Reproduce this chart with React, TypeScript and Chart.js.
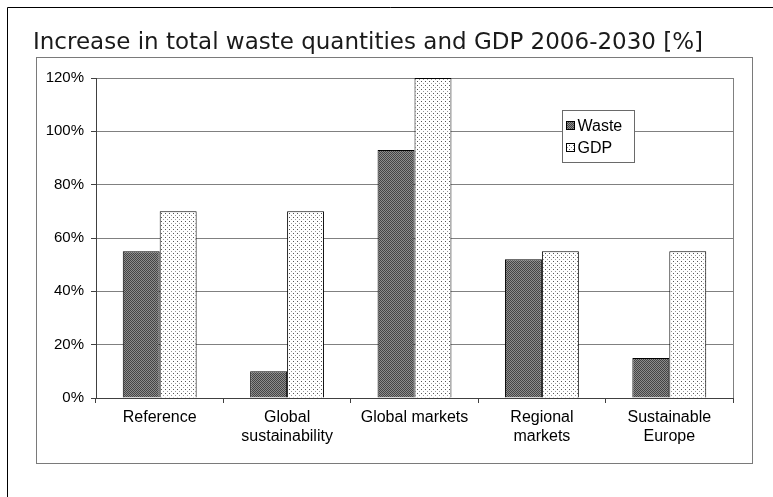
import React, { useEffect, useRef } from 'react';
import { Chart, registerables } from 'chart.js';

Chart.register(...registerables);

const TITLE = 'Increase in total waste quantities and GDP 2006-2030 [%]';
const CATEGORIES: string[][] = [
  ['Reference'],
  ['Global', 'sustainability'],
  ['Global markets'],
  ['Regional', 'markets'],
  ['Sustainable', 'Europe'],
];
const SERIES_LABELS = ['Waste', 'GDP'];
const WASTE = [55, 10, 93, 52, 15];
const GDP = [70, 70, 120, 55, 55];
const Y_MIN = 0;
const Y_MAX = 120;
const Y_STEP = 20;

const FONT_FAMILY = "'Liberation Sans', Arial, sans-serif";

function makeWastePattern(): CanvasPattern | string {
  const c = document.createElement('canvas');
  c.width = 4;
  c.height = 4;
  const g = c.getContext('2d');
  if (!g) return '#6a6a6a';
  g.fillStyle = '#8c8c8c';
  g.fillRect(0, 0, 4, 4);
  g.fillStyle = '#444444';
  for (let y = 0; y < 4; y++) {
    for (let x = 0; x < 4; x++) {
      if ((x + y) % 2 === 0) g.fillRect(x, y, 1, 1);
    }
  }
  return g.createPattern(c, 'repeat') || '#6a6a6a';
}

function makeGdpPattern(): CanvasPattern | string {
  const c = document.createElement('canvas');
  c.width = 4;
  c.height = 4;
  const g = c.getContext('2d');
  if (!g) return '#f4f4f4';
  g.fillStyle = '#ffffff';
  g.fillRect(0, 0, 4, 4);
  g.fillStyle = '#555555';
  g.fillRect(1, 1, 1, 1);
  g.fillStyle = '#999999';
  g.fillRect(3, 3, 1, 1);
  return g.createPattern(c, 'repeat') || '#f4f4f4';
}

const decorPlugin = {
  id: 'decor',
  beforeDraw(chart: any) {
    const ctx: CanvasRenderingContext2D = chart.ctx;
    ctx.save();
    ctx.fillStyle = '#ffffff';
    ctx.fillRect(0, 0, chart.width, chart.height);
    // outer frame
    ctx.strokeStyle = '#000000';
    ctx.lineWidth = 1;
    ctx.beginPath();
    ctx.moveTo(7.5, chart.height + 2);
    ctx.lineTo(7.5, 7.5);
    ctx.lineTo(chart.width + 2, 7.5);
    ctx.stroke();
    // inner frame
    ctx.strokeStyle = '#7a7a7a';
    ctx.strokeRect(36.5, 57.5, 716, 406);
    // title
    ctx.fillStyle = '#1a1a1a';
    ctx.font = "23px 'DejaVu Sans', Verdana, sans-serif";
    ctx.textAlign = 'left';
    ctx.textBaseline = 'alphabetic';
    ctx.fillText(TITLE, 33, 49);
    ctx.restore();
  },
  afterDraw(chart: any) {
    const ctx: CanvasRenderingContext2D = chart.ctx;
    const a = chart.chartArea;
    ctx.save();
    // plot area right border
    ctx.strokeStyle = '#808080';
    ctx.lineWidth = 1;
    ctx.beginPath();
    ctx.moveTo(Math.round(a.right) + 0.5, a.top);
    ctx.lineTo(Math.round(a.right) + 0.5, a.bottom);
    ctx.stroke();
    // legend
    const bx = 562.5, by = 110.5, bw = 72, bh = 52;
    ctx.fillStyle = '#ffffff';
    ctx.fillRect(bx, by, bw, bh);
    ctx.strokeStyle = '#6a6a6a';
    ctx.strokeRect(bx, by, bw, bh);
    ctx.font = `16px ${FONT_FAMILY}`;
    ctx.textBaseline = 'middle';
    ctx.textAlign = 'left';
    chart.data.datasets.forEach((ds: any, i: number) => {
      const cy = by + 15 + i * 22;
      ctx.fillStyle = ds.backgroundColor;
      ctx.fillRect(bx + 4, cy - 4, 8, 8);
      ctx.strokeStyle = '#000000';
      ctx.strokeRect(bx + 4, cy - 4, 8, 8);
      ctx.fillStyle = '#000000';
      ctx.fillText(ds.label, bx + 15, cy + 1);
    });
    ctx.restore();
  },
};

export default function App() {
  const ref = useRef<HTMLCanvasElement | null>(null);

  useEffect(() => {
    const canvas = ref.current;
    if (!canvas) return;
    const wastePattern = makeWastePattern();
    const gdpPattern = makeGdpPattern();
    const chart = new Chart(canvas, {
      type: 'bar',
      data: {
        labels: CATEGORIES,
        datasets: [
          {
            label: SERIES_LABELS[0],
            data: WASTE,
            backgroundColor: wastePattern as any,
            borderColor: '#000000',
            borderWidth: 1,
            categoryPercentage: 0.58,
            barPercentage: 1.0,
          },
          {
            label: SERIES_LABELS[1],
            data: GDP,
            backgroundColor: gdpPattern as any,
            borderColor: '#000000',
            borderWidth: 1,
            categoryPercentage: 0.58,
            barPercentage: 1.0,
          },
        ],
      },
      options: {
        responsive: false,
        animation: false,
        devicePixelRatio: 1,
        layout: { padding: { left: 0, right: 40, top: 78, bottom: 0 } },
        plugins: {
          legend: { display: false },
          title: { display: false },
          tooltip: { enabled: false },
        },
        scales: {
          x: {
            grid: {
              display: true,
              drawOnChartArea: false,
              drawTicks: true,
              tickLength: 5,
              color: '#404040',
              offset: true,
            },
            border: { display: true, color: '#404040' },
            ticks: {
              color: '#000000',
              font: { family: FONT_FAMILY, size: 16 },
              padding: 5,
              maxRotation: 0,
              autoSkip: false,
            },
            afterFit(scale: any) {
              scale.height = 99;
            },
          },
          y: {
            min: Y_MIN,
            max: Y_MAX,
            grid: {
              color: '#808080',
              drawTicks: true,
              tickLength: 5,
              tickColor: '#404040',
            },
            border: { display: true, color: '#404040' },
            ticks: {
              stepSize: Y_STEP,
              color: '#000000',
              font: { family: FONT_FAMILY, size: 15 },
              padding: 7,
              callback: (v: any) => `${v}%`,
            },
            afterFit(scale: any) {
              scale.width = 96;
            },
          },
        },
      },
      plugins: [decorPlugin],
    });
    return () => chart.destroy();
  }, []);

  return (
    <div style={{ position: 'absolute', left: 0, top: 0, width: 773, height: 497 }}>
      <canvas ref={ref} width={773} height={497} style={{ display: 'block' }} />
    </div>
  );
}
